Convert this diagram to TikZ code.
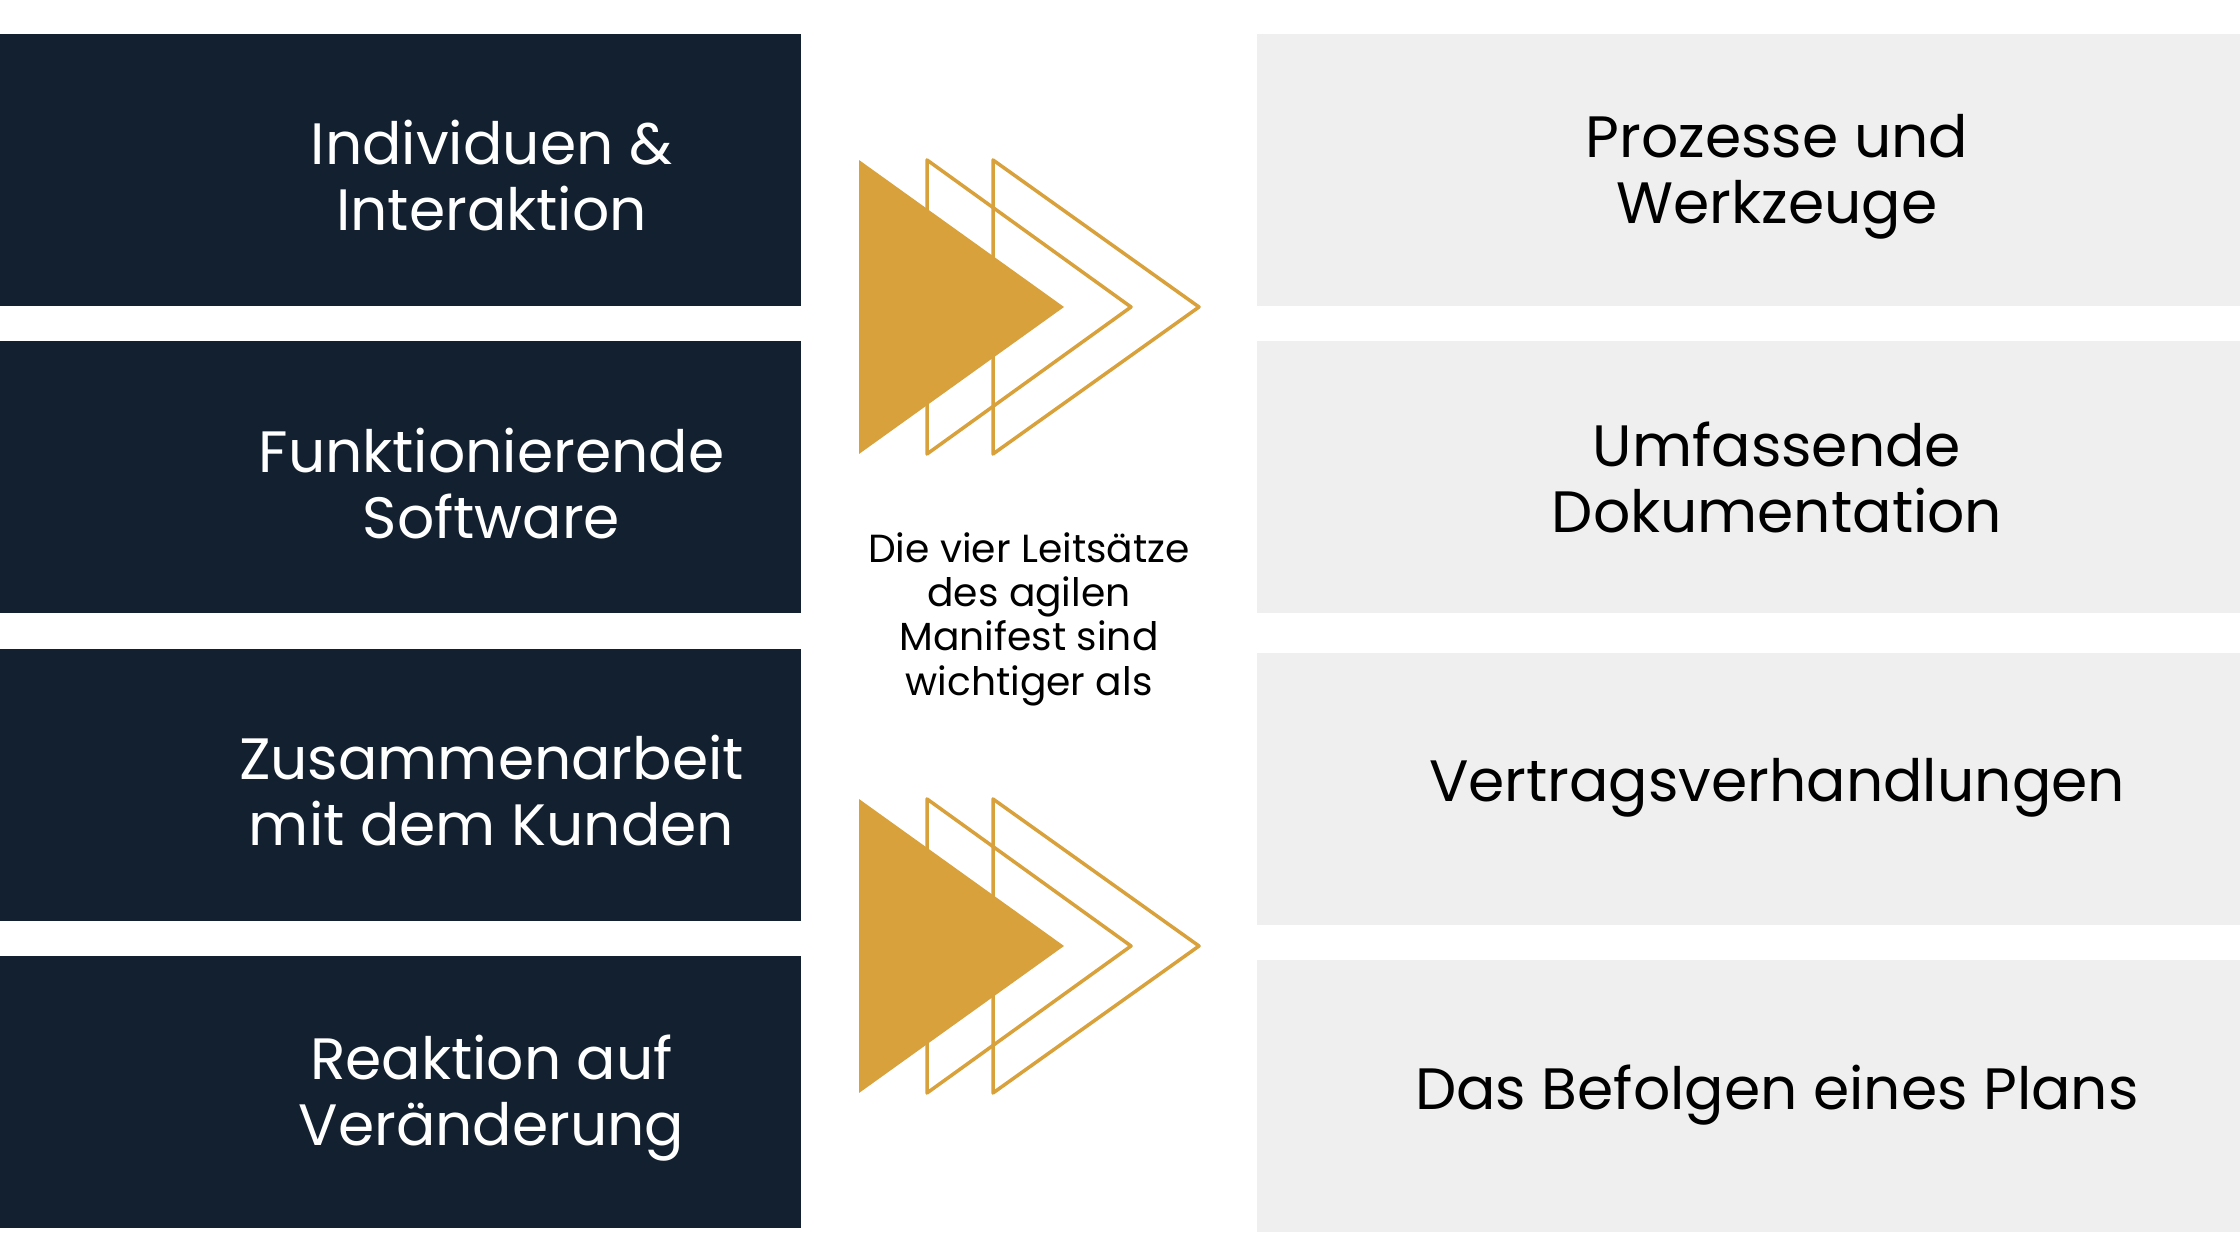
\documentclass[tikz,border=0pt]{standalone}
\usepackage{fontspec}
\setmainfont{Poppins}
\usetikzlibrary{positioning}

\definecolor{navy}{HTML}{13202F}
\definecolor{gold}{HTML}{D8A13B}
\definecolor{paper}{HTML}{EFEFEF}

\begin{document}
\begin{tikzpicture}[
  x=0.1mm, y=0.1mm,
  node distance=3.4mm,
  darkbox/.style={rectangle, fill=navy, inner sep=0pt, minimum width=80.1mm, minimum height=27.2mm},
  lightbox/.style={rectangle, fill=paper, inner sep=0pt, minimum width=98.3mm, minimum height=27.2mm},
  darktext/.style={text=white, align=center, font=\fontsize{16.6}{18.8}\selectfont},
  lighttext/.style={text=black, align=center, font=\fontsize{16.6}{18.8}\selectfont},
  midtext/.style={text=black, align=center, font=\fontsize{11.15}{12.6}\selectfont},
  outline/.style={draw=gold, line width=0.35mm, line join=round}
]

\useasboundingbox (0,0) rectangle (2240,1260);

% Left column: values
\node[darkbox] (Ind) at (400.5,1090) {};
\node[darkbox, below=of Ind] (Soft) {};
\node[darkbox, below=of Soft] (Kunde) {};
\node[darkbox, below=of Kunde] (Reakt) {};

\node[darktext] (IndT) at ([xshift=9.1mm, yshift=-0.6mm]Ind.center) {Individuen \&\\Interaktion};
\node[darktext] (SoftT) at ([xshift=9.1mm, yshift=-0.6mm]Soft.center) {Funktionierende\\Software};
\node[darktext] (KundeT) at ([xshift=9.1mm, yshift=-0.6mm]Kunde.center) {Zusammenarbeit\\mit dem Kunden};
\node[darktext] (ReaktT) at ([xshift=9.1mm, yshift=-0.6mm]Reakt.center) {Reaktion auf\\Veränderung};

% Right column: less important
\node[lightbox] (Proz) at (1748.5,1090) {};
\node[lightbox, below=of Proz] (Doku) {};
\node[lightbox, below=3.8mm of Doku] (Vert) {};
\node[lightbox, below=of Vert] (Plan) {};

\node[lighttext] (ProzT) at ([xshift=2.85mm, yshift=-0.7mm]Proz.center) {Prozesse und\\Werkzeuge};
\node[lighttext] (DokuT) at ([xshift=2.85mm]Doku.center) {Umfassende\\Dokumentation};
\node[lighttext] (VertT) at ([xshift=2.85mm, yshift=-0.3mm]Kunde.center -| Proz.center) {Vertragsverhandlungen};
\node[lighttext] (PlanT) at ([xshift=2.85mm, yshift=-0.3mm]Reakt.center -| Proz.center) {Das Befolgen eines Plans};

% Middle: caption
\node[midtext] (Mitte) at (1029,641) {Die vier Leitsätze\\des agilen\\Manifest sind\\wichtiger als};

% Arrows
\foreach \y in {953,314} {
  \draw[outline] (927,\y+147) -- (1131,\y) -- (927,\y-147) -- cycle;
  \draw[outline] (993,\y+147) -- (1199,\y) -- (993,\y-147) -- cycle;
  \fill[gold] (859,\y+147) -- (1064,\y) -- (859,\y-147) -- cycle;
}

\end{tikzpicture}
\end{document}
